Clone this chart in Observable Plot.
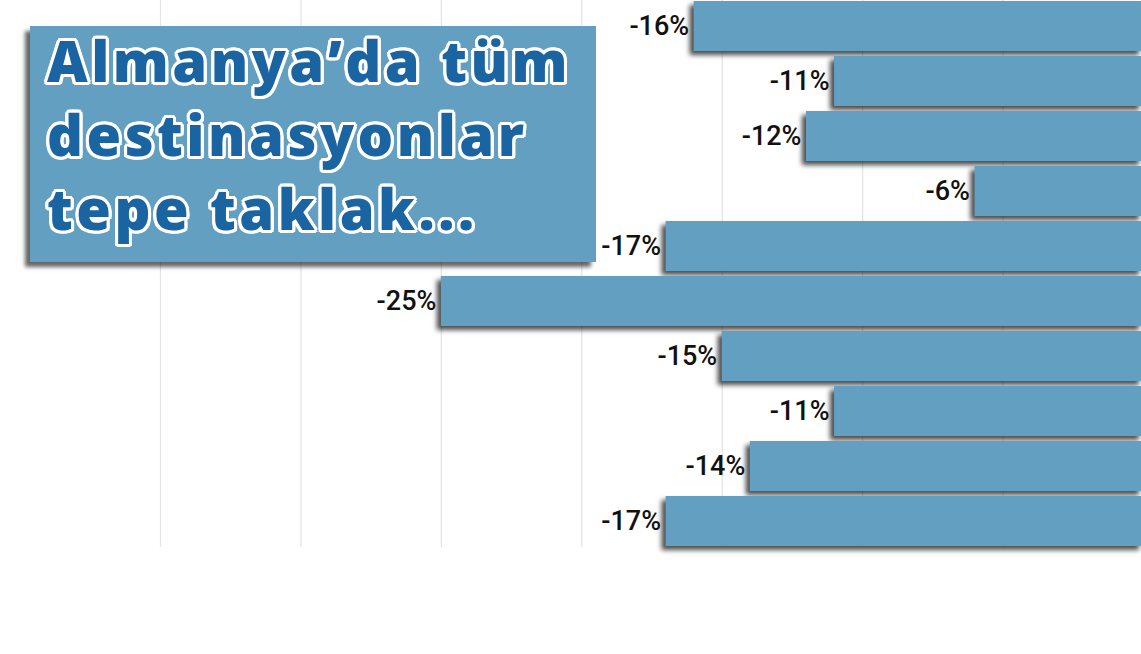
<!DOCTYPE html>
<html>
<head>
<meta charset="utf-8">
<script src="https://cdn.jsdelivr.net/npm/d3@7"></script>
<script src="https://cdn.jsdelivr.net/npm/@observablehq/plot@0.6"></script>
<style>
  html, body { margin: 0; padding: 0; background: #fff; overflow: hidden; }
  #wrap { position: relative; width: 1141px; height: 654px; }
  #chart svg { display: block; }
  #chart g[aria-label="bar"] rect { filter: drop-shadow(-4px 4px 2.5px rgba(0,0,0,0.7)); }
  #title {
    position: absolute; left: 30px; top: 26px; width: 566px; height: 236px;
    background: #629fc1; box-shadow: -5px 5px 4px rgba(0,0,0,0.6);
    box-sizing: border-box; padding: 0 0 0 17px;
  }
  #title div {
    position: relative; top: -3px;
    font-family: "Open Sans", sans-serif; font-weight: 800; font-size: 56px;
    line-height: 74px; letter-spacing: 3.5px; color: #1a64a1;
    text-shadow:
      3px 0 0 #fff, -3px 0 0 #fff, 0 3px 0 #fff, 0 -3px 0 #fff,
      2px 2px 0 #fff, -2px 2px 0 #fff, 2px -2px 0 #fff, -2px -2px 0 #fff,
      3px 1.5px 0 #fff, -3px 1.5px 0 #fff, 3px -1.5px 0 #fff, -3px -1.5px 0 #fff,
      1.5px 3px 0 #fff, -1.5px 3px 0 #fff, 1.5px -3px 0 #fff, -1.5px -3px 0 #fff;
  }
</style>
</head>
<body>
<div id="wrap">
  <div id="chart"></div>
  <div id="title"><div>Almanya’da tüm<br>destinasyonlar<br>tepe taklak...</div></div>
</div>
<script>
const categories = ["D1", "D2", "D3", "D4", "D5", "D6", "D7", "D8", "D9", "D10"];
const values = [-16, -11, -12, -6, -17, -25, -15, -11, -14, -17];
const gridTicks = [-5, -10, -15, -20, -25, -30, -35];

const data = categories.map((c, i) => ({category: c, value: values[i]}));

const chart = Plot.plot({
  width: 1141,
  height: 654,
  marginTop: 0,
  marginBottom: 107,
  marginLeft: 0,
  marginRight: 0,
  x: {domain: [-35, 0], range: [160, 1143], axis: null},
  y: {domain: categories, range: [-3.6, 549.4], paddingInner: 0.096, paddingOuter: 0.048, axis: null},
  marks: [
    Plot.ruleX(gridTicks, {stroke: "#e3e3e3", strokeWidth: 1.2}),
    Plot.barX(data, {x: "value", y: "category", fill: "#629fc1"}),
    Plot.text(data, {
      x: "value", y: "category", text: d => d.value + "%",
      textAnchor: "end", dx: -5, fill: "#111",
      fontFamily: "Roboto", fontWeight: 500, fontSize: 27
    })
  ]
});
document.getElementById("chart").appendChild(chart);
</script>
</body>
</html>
